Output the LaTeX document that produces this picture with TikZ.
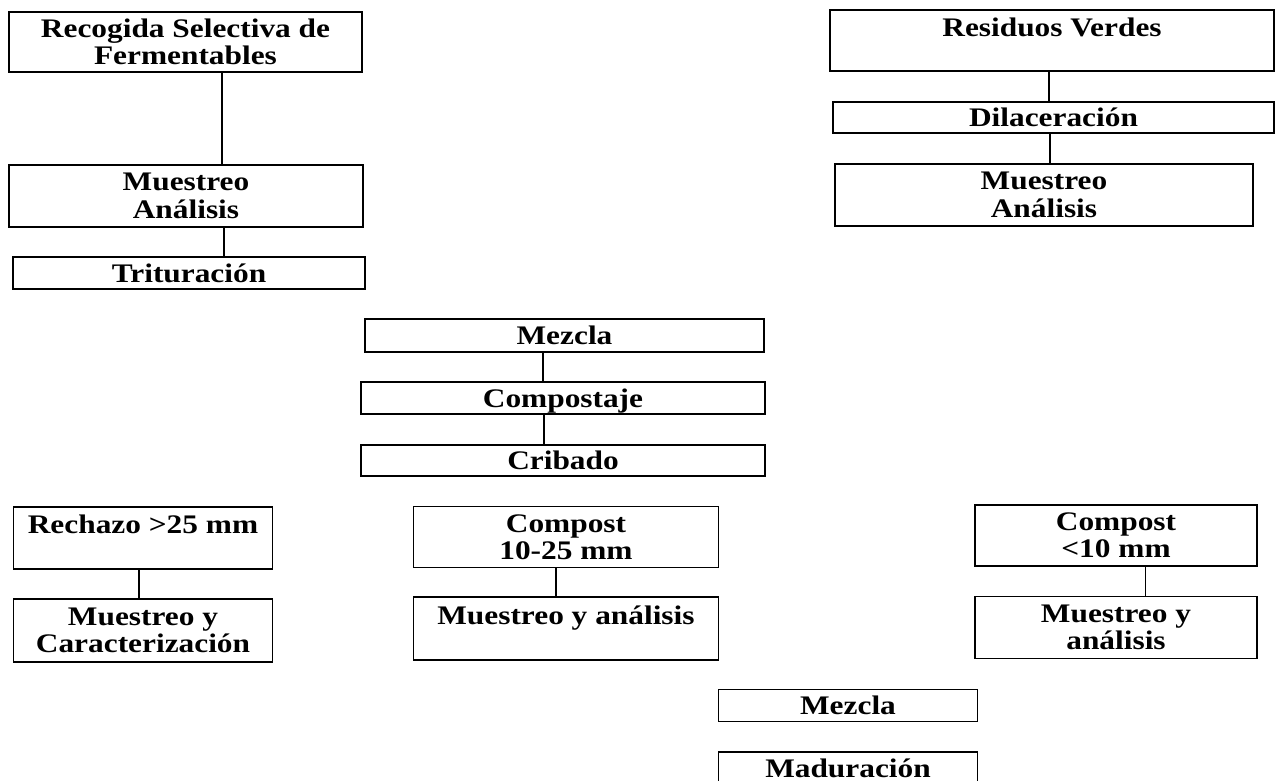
\documentclass[tikz,border=0pt]{standalone}
\usepackage{fontspec}
\setmainfont{Liberation Serif}[FakeStretch=1.17]
\begin{document}
\begin{tikzpicture}[x=0.5pt,y=-0.5pt,
  box/.style={draw, line width=0.8pt, inner sep=0pt, align=center,
    font=\bfseries\fontsize{13.4pt}{13.7pt}\selectfont},
  sz/.style 2 args={minimum width=#1*0.5pt, minimum height=#2*0.5pt},
  link/.style={line width=0.8pt}]
\useasboundingbox (0,0) rectangle (1275,781);
\fill[white] (0,0) rectangle (1275,781);
\clip (0,0) rectangle (1275,781);
% left column
\node[box, sz={353}{60}] (rsf) at (185.5,42) {Recogida Selectiva de\\Fermentables};
\node[box, sz={354}{62}] (ma1) at (186,196) {Muestreo\\Análisis};
\node[box, sz={352}{32}] (tri) at (189,273) {Trituración};
% right column
\node[box, sz={444}{61}] (rv) at (1052,40.5) {Residuos Verdes\\\mbox{}};
\node[box, sz={441}{31}] (dil) at (1053.5,117.5) {Dilaceración};
\node[box, sz={418}{62}] (ma2) at (1044,195) {Muestreo\\Análisis};
% middle
\node[box, sz={399}{33}] (mez1) at (564.5,335.5) {Mezcla};
\node[box, sz={404}{32}, text depth=0pt] (comp) at (563,398) {Compostaje};
\node[box, sz={404}{31}] (crib) at (563,460.5) {Cribado};
% outputs
\node[box, sz={259}{62}] (rech) at (143,538) {Rechazo >25 mm\\\mbox{}};
\node[box, sz={259}{63}] (myc) at (143,630.3) {Muestreo y\\Caracterización};
\node[box, sz={305}{61}] (c1025) at (566,537) {Compost\\10-25 mm};
\node[box, sz={305}{63}] (mya) at (566,628.7) {Muestreo y análisis\\\mbox{}};
\node[box, sz={282}{61}] (c10) at (1116,535.5) {Compost\\<10 mm};
\node[box, sz={282}{62}] (mya2) at (1116,627.5) {Muestreo y\\análisis};
\node[box, sz={259}{32}] (mez2) at (848,705.5) {Mezcla};
\node[box, sz={259}{32}] (mad) at (848,768) {Maduración};
% connectors
\draw[link] (rsf.south -| 222,0) -- (ma1.north -| 222,0);
\draw[link] (ma1.south -| 224,0) -- (tri.north -| 224,0);
\draw[link] (rv.south -| 1049,0) -- (dil.north -| 1049,0);
\draw[link] (dil.south -| 1050,0) -- (ma2.north -| 1050,0);
\draw[link] (mez1.south -| 543,0) -- (comp.north -| 543,0);
\draw[link] (comp.south -| 544,0) -- (crib.north -| 544,0);
\draw[link] (rech.south -| 139,0) -- (myc.north -| 139,0);
\draw[link] (c1025.south -| 556,0) -- (mya.north -| 556,0);
\draw[link] (c10.south -| 1145.5,0) -- (mya2.north -| 1145.5,0);
\end{tikzpicture}
\end{document}
